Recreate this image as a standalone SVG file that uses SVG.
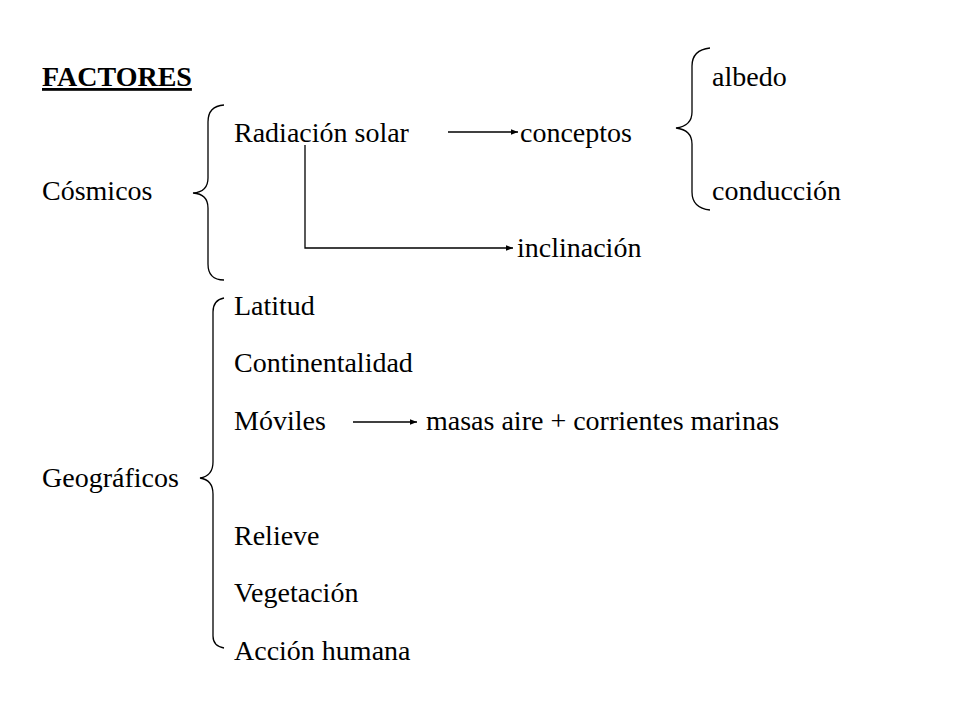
<svg xmlns="http://www.w3.org/2000/svg" width="960" height="720" viewBox="0 0 960 720">
<defs>
<marker id="ah" viewBox="0 0 10 10" refX="10" refY="5" markerWidth="7" markerHeight="7" markerUnits="userSpaceOnUse" orient="auto"><path d="M0,1 L10,5 L0,9 z" fill="#000"/></marker>
<style>text{font-family:"Liberation Serif","Times New Roman",serif;font-size:28px;fill:#000}
.br{fill:none;stroke:#000;stroke-width:1.3}
.ln{fill:none;stroke:#000;stroke-width:1.3}</style>
</defs>
<rect width="960" height="720" fill="#fff"/>
<g id="texts">
<text x="42" y="86" font-weight="bold" text-decoration="underline">FACTORES</text>
<text x="712" y="86">albedo</text>
<text x="234" y="142">Radiación solar</text>
<text x="520" y="142">conceptos</text>
<text x="42" y="200">Cósmicos</text>
<text x="712" y="200">conducción</text>
<text x="517" y="257">inclinación</text>
<text x="234" y="315">Latitud</text>
<text x="234" y="372">Continentalidad</text>
<text x="234" y="430">Móviles</text>
<text x="426" y="430">masas aire + corrientes marinas</text>
<text x="42" y="487">Geográficos</text>
<text x="234" y="545">Relieve</text>
<text x="234" y="602">Vegetación</text>
<text x="234" y="660">Acción humana</text>
</g>
<g id="brackets">
<path class="br" d="M224,105 Q208,106 208,122 L208,178 Q208,192 193,193 Q208,194 208,208 L208,264 Q208,280 224,280"/>
<path class="br" d="M224,298 Q213,300 213,312 L213,462 Q213,476 200,478 Q213,480 213,494 L213,636 Q213,646 224,648"/>
<path class="br" d="M710,48 Q692,50 692,66 L692,112 Q692,126 676,128 Q692,130 692,144 L692,192 Q692,208 710,210"/>
</g>
<g id="connectors">
<line class="ln" x1="448" y1="132" x2="518" y2="132" marker-end="url(#ah)"/>
<polyline class="ln" points="305,145 305,248 513,248" marker-end="url(#ah)"/>
<line class="ln" x1="353" y1="422" x2="417" y2="422" marker-end="url(#ah)"/>
</g>
</svg>
